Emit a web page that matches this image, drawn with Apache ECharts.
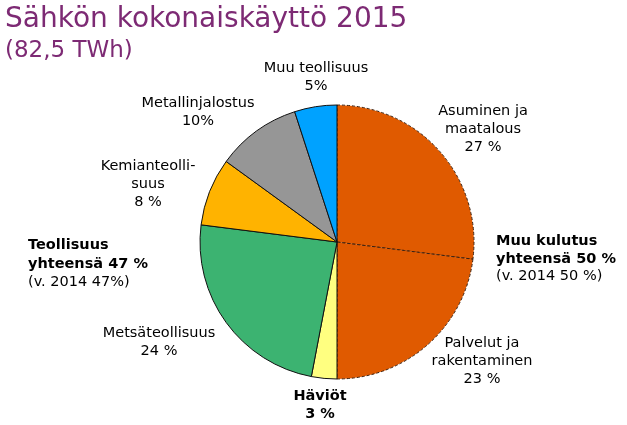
<!DOCTYPE html>
<html>
<head>
<meta charset="utf-8">
<script src="https://cdn.jsdelivr.net/npm/echarts@6/dist/echarts.min.js"></script>
<style>
  html, body { margin: 0; padding: 0; background: #fff; }
  #chart { width: 627px; height: 425px; }
</style>
</head>
<body>
<div id="chart"></div>
<script>
// osuudet kokonaiskäytöstä (%), myötäpäivään ylhäältä
var names = ['Asuminen ja\nmaatalous', 'Palvelut ja\nrakentaminen', 'Häviöt', 'Metsäteollisuus',
             'Kemianteolli-\nsuus', 'Metallinjalostus', 'Muu teollisuus'];
var values = [27, 23, 3, 24, 8, 10, 5];
var valueLabels = ['27 %', '23 %', '3 %', '24 %', '8 %', '10%', '5%'];
var colors = ['#E05A00', '#E05A00', '#FFFF80', '#3CB371', '#FFB300', '#969696', '#00A2FF'];

// label positions (px), by slice index
var labelPos = [[483, 129], [482, 361], [320, 405], [159, 342], [148, 184], [198, 112], [316, 77]];

var dom = document.getElementById('chart');
var myChart = echarts.init(dom);

var data = [];
for (var i = 0; i < values.length; i++) {
    var dashed = colors[i] === '#E05A00';
    data.push({
        name: names[i],
        value: values[i],
        itemStyle: {
            color: colors[i],
            borderColor: dashed ? '#3a2010' : '#111',
            borderWidth: 1,
            borderType: dashed ? [3, 2] : 'solid'
        },
        label: {
            fontWeight: i === 2 ? 'bold' : 'normal'
        }
    });
}

var txt = { fontFamily: 'DejaVu Sans', fontSize: 14.5, lineHeight: 18.5, fill: '#000' };

var option = {
    animation: false,
    title: {
        text: '{a|Sähkön kokonaiskäyttö 2015}\n{b|(82,5 TWh)}',
        left: 0,
        top: 0,
        textStyle: {
            fontWeight: 'normal',
            rich: {
                a: { color: '#7D2A74', fontFamily: 'DejaVu Sans', fontWeight: 'normal', fontSize: 28, lineHeight: 30 },
                b: { color: '#7D2A74', fontFamily: 'DejaVu Sans', fontWeight: 'normal', fontSize: 23, lineHeight: 32 }
            }
        }
    },
    graphic: [
        {
            type: 'text',
            left: 28,
            top: 238,
            style: {
                text: '{b|Teollisuus}\n{b|yhteensä 47 %}\n{n|(v. 2014 47%)}',
                rich: {
                    b: Object.assign({}, txt, { fontWeight: 'bold' }),
                    n: txt
                }
            }
        },
        {
            type: 'text',
            left: 496,
            top: 234,
            style: {
                text: '{b|Muu kulutus}\n{b|yhteensä 50 %}\n{n|(v. 2014 50 %)}',
                rich: {
                    b: Object.assign({}, txt, { fontWeight: 'bold', lineHeight: 17.5 }),
                    n: Object.assign({}, txt, { lineHeight: 17.5 })
                }
            }
        }
    ],
    series: [
        {
            type: 'pie',
            center: [337, 242],
            radius: [0, 137],
            startAngle: 90,
            clockwise: true,
            data: data,
            label: {
                show: true,
                position: 'outside',
                color: '#000',
                fontFamily: 'DejaVu Sans',
                fontSize: 14.5,
                lineHeight: 18,
                align: 'center',
                formatter: function (p) {
                    return p.name + '\n' + valueLabels[p.dataIndex];
                }
            },
            labelLine: { show: false },
            labelLayout: function (params) {
                var pos = labelPos[params.dataIndex];
                return {
                    x: pos[0],
                    y: pos[1],
                    align: 'center',
                    verticalAlign: 'middle'
                };
            },
            emphasis: { disabled: true }
        }
    ]
};

if (option && typeof option === "object") {
    myChart.setOption(option, true);
}
</script>
</body>
</html>
